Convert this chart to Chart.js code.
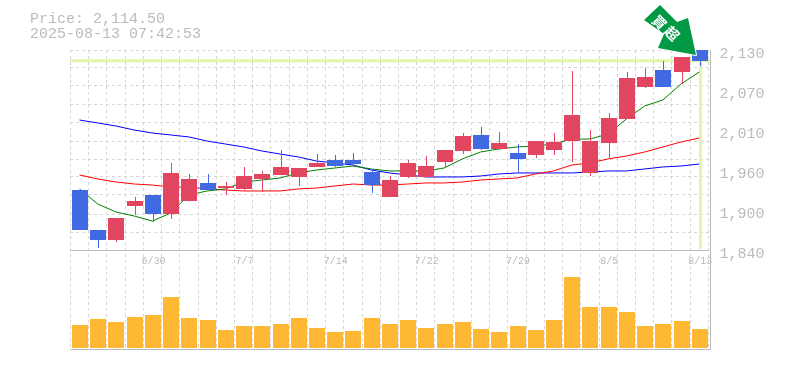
<!DOCTYPE html>
<html>
<head>
<meta charset="utf-8">
<title>Price chart</title>
<script src="https://cdn.jsdelivr.net/npm/chart.js@4"></script>
<style>
  html, body { margin: 0; padding: 0; background: #fff; }
  canvas { display: block; }
</style>
</head>
<body>
<canvas id="myChart" width="785" height="370"></canvas>
<script>
// Categories
const dates = ['6/24', '6/25', '6/26', '6/27', '6/30', '7/1', '7/2', '7/3', '7/4', '7/7', '7/8', '7/9', '7/10', '7/11', '7/14', '7/15', '7/16', '7/17', '7/18', '7/22', '7/23', '7/24', '7/25', '7/28', '7/29', '7/30', '7/31', '8/1', '8/4', '8/5', '8/6', '8/7', '8/8', '8/12', '8/13'];
const shownDates = ['6/30', '7/7', '7/14', '7/22', '7/29', '8/5', '8/13'];

// Candles
const opens = [1927, 1869, 1854.5, 1903.8, 1919.8, 1892.2, 1911, 1937.2, 1929.9, 1928.5, 1943, 1948.8, 1945.9, 1960.4, 1970.5, 1970.5, 1953.1, 1916.9, 1945.9, 1945.9, 1967.6, 1983.6, 2006.8, 1986.5, 1980.7, 1977.8, 1985, 1998, 1951.7, 1995.2, 2030, 2076.4, 2101, 2098.1, 2130];
const closes = [1869, 1854.5, 1886.4, 1911, 1892.2, 1951.7, 1943, 1927, 1932.8, 1947.3, 1950.2, 1960.4, 1958.9, 1966.2, 1961.8, 1964.7, 1934.2, 1941.5, 1966.2, 1961.8, 1985, 2005.3, 1986.5, 1995.2, 1972, 1998, 1996.6, 2035.8, 1998, 2031.4, 2089.4, 2090.9, 2076.4, 2119.9, 2114.5];
const highs = [1928.5, 1869, 1886.4, 1916.9, 1919.8, 1966.2, 1950.2, 1950.2, 1938.6, 1960.4, 1954.6, 1985, 1958.9, 1979.2, 1977.8, 1980.7, 1957.5, 1947.3, 1970.5, 1976.3, 1985, 2009.6, 2018.4, 2011.1, 1993.7, 1998, 2009.6, 2099.5, 2014, 2038.7, 2098.1, 2103.9, 2114.1, 2119.9, 2130];
const lows = [1869, 1843, 1851.6, 1890.7, 1880.6, 1885, 1911, 1927, 1919.8, 1927, 1924.1, 1948.8, 1932.8, 1960.4, 1960.4, 1961.8, 1922.7, 1916.9, 1944.4, 1945.9, 1958.9, 1979.2, 1985, 1985, 1953.1, 1973.4, 1977.8, 1967.6, 1947.3, 1973.4, 2030, 2074.9, 2076.4, 2080.7, 2106.8];

// Moving averages
const maShort = [1928.5, 1906.7, 1895.1, 1889.3, 1882, 1893.6, 1919.8, 1925.6, 1928.5, 1938.6, 1941.5, 1944.4, 1951.7, 1956, 1958.9, 1961.8, 1957.5, 1954.6, 1954.6, 1954.6, 1958.9, 1972, 1982.1, 1986.5, 1989.4, 1990.8, 1993.7, 2000.9, 2000.9, 2008.2, 2030, 2048.8, 2057.5, 2080.7, 2098.1];
const maMid = [1948.8, 1943, 1938.6, 1935.7, 1934.2, 1931.4, 1931.4, 1928.5, 1927, 1925.6, 1925.6, 1925.6, 1928.5, 1929.9, 1932.8, 1935.7, 1934.2, 1934.2, 1935.7, 1937.2, 1937.2, 1938.6, 1941.5, 1943, 1944.4, 1950.2, 1954.6, 1963.2, 1966.2, 1972, 1976.3, 1982.1, 1989.4, 1996.6, 2002.4];
const maLong = [2028.5, 2024.2, 2019.8, 2014, 2009.6, 2006.8, 2003.9, 1998, 1993.7, 1989.4, 1983.6, 1979.2, 1974.9, 1969, 1966.2, 1963.2, 1956, 1951.7, 1948.8, 1945.9, 1945.9, 1945.9, 1947.3, 1950.2, 1951.7, 1951.7, 1951.7, 1951.7, 1953.1, 1954.6, 1954.6, 1957.5, 1960.4, 1961.8, 1964.7];

// Volume
const volumes = [23, 29, 26, 31, 33, 51, 30, 28, 18, 22, 22, 24, 30, 20, 16, 17, 30, 24, 28, 20, 24, 26, 19, 16, 22, 18, 28, 71, 41, 41, 36, 22, 24, 27, 19];

// Ticks
const priceTicks = [2130, 2072, 2014, 1956, 1898, 1840];
const tickLabels = ['2,130', '2,070', '2,010', '1,960', '1,900', '1,840'];
const gridTicks = [2128.6, 2103.9, 2077.8, 2051.7, 2025.6, 1998, 1971.9, 1945.9, 1919.8, 1892.2, 1866.1, 1840];

// Header and arrow
const currentPrice = 2114.5;
const headerLines = ['Price: 2,114.50', '2025-08-13 07:42:53'];
const arrowChars = ['買', '超'];

const RED = '#e24560';
const BLUE = '#4169e1';
const GRAY = '#bbbbbb';
const GRID = '#d6d6d6';
const MARK = '#e3f5a6';
const MONO = '"Liberation Mono", monospace';

const candleColors = opens.map((open, i) => closes[i] < open ? BLUE : RED);

// Price lines, frame, header and the arrow
const extras = {
    id: 'extras',
    beforeDatasetsDraw(chart) {
        const ctx = chart.ctx;
        const area = chart.chartArea;
        const y = chart.scales.y;
        const x = chart.scales.x;
        const priceY = y.getPixelForValue(currentPrice);
        const lastX = x.getPixelForValue(dates.length - 1);

        // keep the bars on whole pixels so they stay crisp
        chart.data.datasets.forEach((dataset, i) => {
            if (dataset.type !== 'bar') return;
            const odd = dataset.barThickness % 2 ? 0.5 : 0;
            chart.getDatasetMeta(i).data.forEach(bar => {
                bar.x = Math.round(bar.x + 0.5) + odd;
                bar.y = Math.round(bar.y);
                bar.base = Math.round(bar.base);
            });
        });

        ctx.save();
        ctx.strokeStyle = MARK;
        ctx.lineWidth = 3;
        ctx.beginPath();
        ctx.moveTo(area.left, priceY);
        ctx.lineTo(area.right + 2, priceY);
        ctx.moveTo(Math.round(lastX) + 1.5, priceY);
        ctx.lineTo(Math.round(lastX) + 1.5, y.getPixelForValue(1840) - 1);
        ctx.stroke();
        ctx.restore();
    },
    afterDraw(chart) {
        const ctx = chart.ctx;
        const area = chart.chartArea;

        ctx.save();
        // frame
        ctx.strokeStyle = GRAY;
        ctx.lineWidth = 1;
        ctx.beginPath();
        ctx.moveTo(Math.round(area.right) + 2.5, area.top);
        ctx.lineTo(Math.round(area.right) + 2.5, area.bottom);
        ctx.moveTo(area.left, area.bottom - 0.5);
        ctx.lineTo(Math.round(area.right) + 3, area.bottom - 0.5);
        ctx.stroke();

        // header
        ctx.fillStyle = GRAY;
        ctx.font = '15px ' + MONO;
        ctx.textAlign = 'left';
        ctx.textBaseline = 'alphabetic';
        ctx.fillText(headerLines[0], 30, 23);
        ctx.fillText(headerLines[1], 30, 38);

        // arrow
        ctx.beginPath();
        ctx.moveTo(660, 5);
        ctx.lineTo(677, 22);
        ctx.lineTo(688, 18);
        ctx.lineTo(696, 55);
        ctx.lineTo(658, 48);
        ctx.lineTo(664, 34);
        ctx.lineTo(644, 20);
        ctx.closePath();
        ctx.fillStyle = '#009944';
        ctx.strokeStyle = '#ffffff';
        ctx.lineWidth = 2;
        ctx.lineJoin = 'round';
        ctx.stroke();
        ctx.fill();

        ctx.fillStyle = '#ffffff';
        ctx.font = 'bold 14px "Noto Sans CJK JP"';
        ctx.textAlign = 'center';
        ctx.textBaseline = 'middle';
        [[659.5, 22.5], [672, 33.5]].forEach((pos, i) => {
            ctx.save();
            ctx.translate(pos[0], pos[1]);
            ctx.rotate(Math.PI / 4);
            ctx.fillText(arrowChars[i], 0, 0);
            ctx.restore();
        });
        ctx.restore();
    }
};

const data = {
    labels: dates,
    datasets: [
        {
            type: 'bar',
            data: opens.map((open, i) => [open, closes[i]]),
            backgroundColor: candleColors,
            barThickness: 16,
            inflateAmount: 0,
            grouped: false,
            yAxisID: 'y',
            order: 1
        },
        {
            type: 'bar',
            data: lows.map((low, i) => [low, highs[i]]),
            backgroundColor: candleColors,
            barThickness: 1,
            inflateAmount: 0,
            grouped: false,
            yAxisID: 'y',
            order: 2
        },
        { type: 'line', data: maShort, borderColor: '#008000', borderWidth: 1, pointRadius: 0, yAxisID: 'y', order: 3 },
        { type: 'line', data: maMid, borderColor: '#ff0000', borderWidth: 1, pointRadius: 0, yAxisID: 'y', order: 4 },
        { type: 'line', data: maLong, borderColor: '#0000ff', borderWidth: 1, pointRadius: 0, yAxisID: 'y', order: 5 },
        {
            type: 'bar',
            data: volumes,
            backgroundColor: '#ffb833',
            barThickness: 16,
            inflateAmount: 0,
            grouped: false,
            yAxisID: 'yVolume',
            order: 6
        }
    ]
};

const config = {
    data: data,
    plugins: [extras],
    options: {
        responsive: false,
        animation: false,
        events: [],
        layout: {
            padding: { left: 70.4, right: 0, top: 50, bottom: 20 }
        },
        plugins: {
            legend: { display: false },
            tooltip: { enabled: false },
            title: { display: false }
        },
        scales: {
            x: {
                type: 'category',
                position: { y: 1840 },
                offset: true,
                grid: {
                    offset: true,
                    color: GRID,
                    drawTicks: false
                },
                border: { color: GRAY, width: 1, dash: [3, 3] },
                ticks: {
                    color: GRAY,
                    font: { family: MONO, size: 10 },
                    padding: 5,
                    labelOffset: 1,
                    autoSkip: false,
                    maxRotation: 0,
                    callback: function(value) {
                        const label = this.getLabelForValue(value);
                        return shownDates.includes(label) ? label : '';
                    }
                }
            },
            y: {
                position: 'right',
                min: 1695,
                max: 2130,
                grid: { display: false, drawTicks: false },
                border: { display: false },
                afterBuildTicks: scale => {
                    scale.ticks = priceTicks.map(value => ({ value: value }));
                },
                afterFit: scale => {
                    scale.width = 76.6;
                },
                ticks: {
                    color: GRAY,
                    font: { family: MONO, size: 15 },
                    padding: 11,
                    labelOffset: 4,
                    autoSkip: false,
                    callback: (value, index) => tickLabels[index]
                }
            },
            yGrid: {
                position: 'left',
                min: 1695,
                max: 2130,
                grid: { color: GRID, drawTicks: false },
                border: { display: false, dash: [3, 3] },
                afterBuildTicks: scale => {
                    scale.ticks = gridTicks.map(value => ({ value: value }));
                },
                afterFit: scale => {
                    scale.width = 0;
                },
                ticks: { display: false, autoSkip: false }
            },
            yVolume: {
                display: false,
                position: 'right',
                min: -2,
                max: 298
            }
        }
    }
};

const myChart = new Chart(document.getElementById('myChart'), config);
</script>
</body>
</html>
